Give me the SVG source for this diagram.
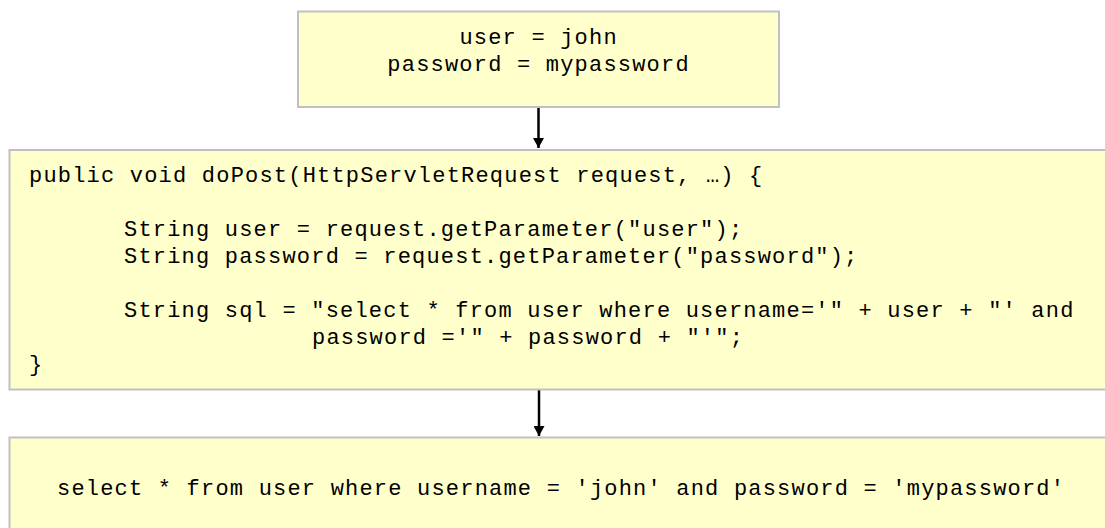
<svg xmlns="http://www.w3.org/2000/svg" width="1105" height="528" viewBox="0 0 1105 528">
<style>
.box{fill:#FFFFCC;stroke:#C0C0C0;stroke-width:2}
.t{font-family:"Liberation Mono","Courier New",monospace;font-size:22px;letter-spacing:1.2px;fill:#000}
.c{text-anchor:middle}
.edge{stroke:#000;stroke-width:2.5;fill:none}
</style>
<defs>
<marker id="ah" markerWidth="11" markerHeight="11" refX="10" refY="5.5" orient="auto" markerUnits="userSpaceOnUse">
<path d="M0,0 L10,5.5 L0,11 Z" fill="#000"/>
</marker>
</defs>
<rect width="1105" height="528" fill="#fff"/>
<g id="connectors">
<line class="edge" x1="538.5" y1="107" x2="538.5" y2="148" marker-end="url(#ah)"/>
<line class="edge" x1="539" y1="390" x2="539" y2="436" marker-end="url(#ah)"/>
</g>
<g id="node-input">
<rect class="box" x="298" y="11.5" width="481" height="95.5"/>
<text class="t c" x="538.6" y="44">user = john</text>
<text class="t c" x="538.6" y="71">password = mypassword</text>
</g>
<g id="node-code">
<rect class="box" x="9.5" y="150" width="1110" height="239.5"/>
<text class="t" x="29" y="182">public void doPost(HttpServletRequest request, …) {</text>
<text class="t" x="124" y="236">String user = request.getParameter("user");</text>
<text class="t" x="124" y="263">String password = request.getParameter("password");</text>
<text class="t" x="124" y="317">String sql = "select * from user where username='" + user + "' and</text>
<text class="t" x="312" y="344">password ='" + password + "'";</text>
<text class="t" x="29" y="371">}</text>
</g>
<g id="node-sql">
<rect class="box" x="9.5" y="437.5" width="1110" height="110"/>
<text class="t" x="57" y="495">select * from user where username = 'john' and password = 'mypassword'</text>
</g>
</svg>
